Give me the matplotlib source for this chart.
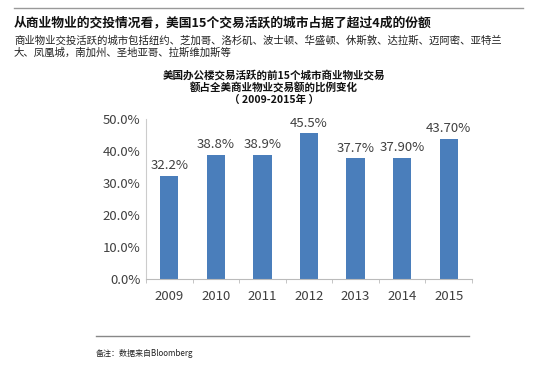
import matplotlib
matplotlib.use("Agg")
import matplotlib.pyplot as plt
import numpy as np

plt.rcParams['font.family'] = ['Noto Sans CJK SC', 'DejaVu Sans']

years = ['2009', '2010', '2011', '2012', '2013', '2014', '2015']
shares = [32.2, 38.8, 38.9, 45.5, 37.7, 37.9, 43.7]
bar_labels = ['32.2%', '38.8%', '38.9%', '45.5%', '37.7%', '37.90%', '43.70%']
yticks = [0, 10, 20, 30, 40, 50]

W, H = 543, 374
fig = plt.figure(figsize=(W / 100, H / 100), dpi=100)

def px(x, y):
    return x / W, 1 - y / H

# header
fig.add_artist(plt.Line2D([14 / W, 523 / W], [1 - 8 / H] * 2, color='#999999', lw=1))
fig.text(*px(14, 23), '从商业物业的交投情况看，美国15个交易活跃的城市占据了超过4成的份额',
         fontsize=9.2, fontweight='bold', va='center', color='#111111')
fig.text(*px(14, 41), '商业物业交投活跃的城市包括纽约、芝加哥、洛杉矶、波士顿、华盛顿、休斯敦、达拉斯、迈阿密、亚特兰',
         fontsize=7.5, va='center', color='#222222')
fig.text(*px(14, 53), '大、凤凰城，南加州、圣地亚哥、拉斯维加斯等',
         fontsize=7.5, va='center', color='#222222')

# chart title
for y, s in [(75, '美国办公楼交易活跃的前15个城市商业物业交易'),
             (87.5, '额占全美商业物业交易额的比例变化'),
             (100, '（ 2009-2015年 ）')]:
    fig.text(*px(274, y), s, fontsize=7.6, fontweight='bold', ha='center', va='center', color='#111111')

ax = fig.add_axes([146 / W, 1 - 279 / H, (472 - 146) / W, (279 - 119) / H])
x = np.arange(len(years))
ax.bar(x, shares, width=0.39, color='#4a7ebb')
for xi, v, lab in zip(x, shares, bar_labels):
    ax.text(xi, v + 1.2, lab, ha='center', va='bottom', fontsize=9.5, color='#404040')

ax.set_xlim(-0.5, len(years) - 0.5)
ax.set_ylim(0, 50)
ax.set_yticks(yticks)
ax.set_yticklabels([f'{t:.1f}%' for t in yticks], fontsize=9.5, color='#404040')
ax.set_xticks(x)
ax.set_xticklabels(years, fontsize=9.5, color='#404040')
ax.set_xticks(np.arange(-0.5, len(years)), minor=True)
ax.tick_params(axis='x', which='major', length=0, pad=8)
ax.tick_params(axis='x', which='minor', length=3, color='#bbbbbb')
ax.tick_params(axis='y', length=0, pad=4)
for s in ['top', 'right']:
    ax.spines[s].set_visible(False)
ax.spines['left'].set_color('#cccccc')
ax.spines['bottom'].set_color('#bbbbbb')

# footer
fig.add_artist(plt.Line2D([96 / W, 469 / W], [1 - 336 / H] * 2, color='#888888', lw=1))
fig.text(*px(96, 354), '备注：数据来自Bloomberg', fontsize=5.8, va='center', color='#222222')

fig.savefig('out.png', dpi=100)
